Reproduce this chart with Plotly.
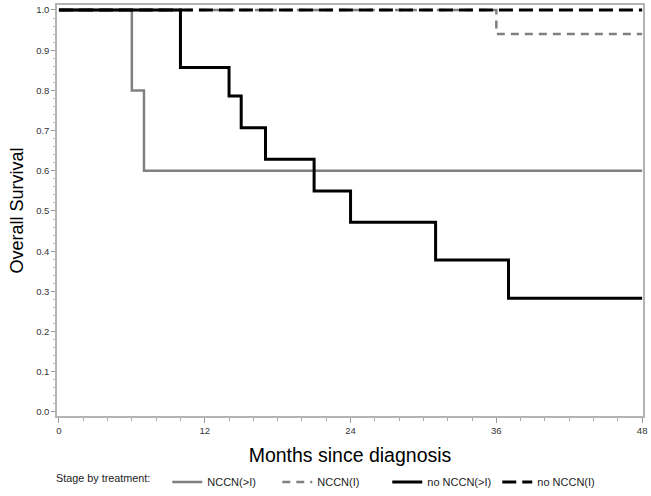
import plotly.graph_objects as go

# Kaplan-Meier step data (months, survival)
nccn_gt1_t = [0, 6, 7, 48]
nccn_gt1_s = [1.0, 0.8, 0.6, 0.6]

nccn_1_t = [0, 36, 48]
nccn_1_s = [1.0, 0.94, 0.94]

no_nccn_gt1_t = [0, 10, 14, 15, 17, 21, 24, 31, 37, 48]
no_nccn_gt1_s = [1.0, 0.857, 0.786, 0.707, 0.629, 0.55, 0.472, 0.378, 0.283, 0.283]

no_nccn_1_t = [0, 48]
no_nccn_1_s = [1.0, 1.0]

x_ticks = [0, 12, 24, 36, 48]
y_ticks = [0.0, 0.1, 0.2, 0.3, 0.4, 0.5, 0.6, 0.7, 0.8, 0.9, 1.0]

font_fam = "Liberation Sans, Arial, sans-serif"

fig = go.Figure()
fig.add_trace(go.Scatter(x=nccn_gt1_t, y=nccn_gt1_s, mode="lines", line_shape="hv",
                         name="NCCN(>I)", line=dict(color="#808080", width=2.5)))
fig.add_trace(go.Scatter(x=nccn_1_t, y=nccn_1_s, mode="lines", line_shape="hv",
                         name="NCCN(I)", line=dict(color="#808080", width=2.5, dash="8px,6px")))
fig.add_trace(go.Scatter(x=no_nccn_gt1_t, y=no_nccn_gt1_s, mode="lines", line_shape="hv",
                         name="no NCCN(>I)", line=dict(color="black", width=3)))
fig.add_trace(go.Scatter(x=no_nccn_1_t, y=no_nccn_1_s, mode="lines", line_shape="hv",
                         name="no NCCN(I)", line=dict(color="black", width=3, dash="14px,6px")))

fig.update_layout(
    width=651, height=496,
    margin=dict(l=57, r=8, t=5, b=80),
    plot_bgcolor="white", paper_bgcolor="white",
    font=dict(family=font_fam, color="#333333"),
    legend=dict(
        orientation="h", xref="container", x=0.083, xanchor="left",
        yref="container", y=0.028, yanchor="middle",
        title=dict(text="Stage by treatment:\u00a0\u00a0\u00a0", side="left", font=dict(size=10.8, color="#222")),
        font=dict(size=11, color="#222"),
        entrywidth=65, entrywidthmode="pixels",
        traceorder="normal",
    ),
)
fig.update_xaxes(
    range=[-0.16, 48.07], tickvals=x_ticks, showgrid=False, zeroline=False, automargin=False,
    showline=True, mirror=True, linecolor="#b4b4b4", linewidth=1.5,
    ticks="outside", ticklen=5, tickcolor="#999", tickfont=dict(size=9.5),
    minor=dict(dtick=2, ticks="outside", ticklen=3, tickcolor="#aaa"),
    title=dict(text="Months since diagnosis", font=dict(size=19.5, color="black"), standoff=13),
)
fig.update_yaxes(
    range=[-0.01, 1.0124], tickvals=y_ticks, tickformat=".1f", showgrid=False, zeroline=False,
    automargin=False,
    showline=True, mirror=True, linecolor="#b4b4b4", linewidth=1.5,
    ticks="outside", ticklen=4, tickcolor="#999", tickfont=dict(size=9.5),
    minor=dict(dtick=0.02, ticks="outside", ticklen=2, tickcolor="#bbb"),
    title=dict(text="Overall Survival", font=dict(size=18, color="black"), standoff=8),
)

# drop the default page margin so the figure sits at the window's top-left corner
fig.write_html("out.html", config={"displayModeBar": False},
               post_script="document.body.style.margin='0';")
